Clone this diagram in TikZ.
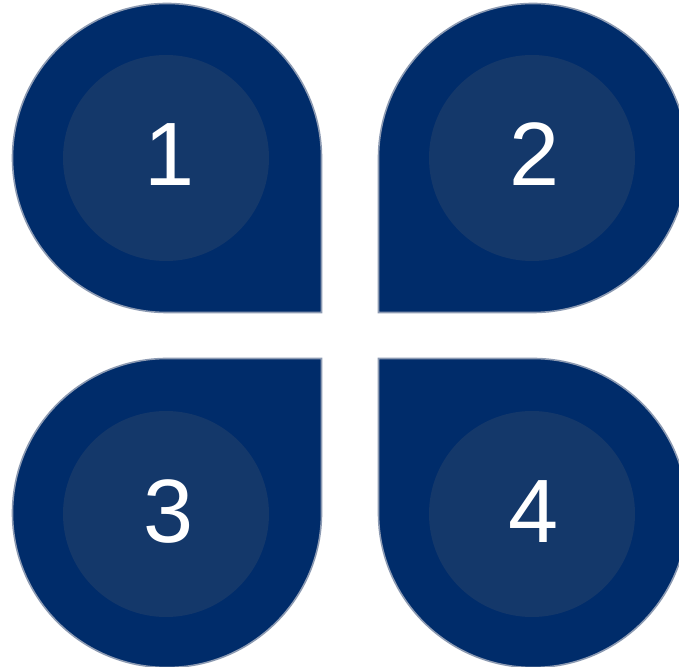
\documentclass[tikz,border=0pt]{standalone}
\usepackage{fontspec}
\setmainfont{Liberation Sans}
\definecolor{outerblue}{HTML}{002C6A}
\definecolor{innerblue}{HTML}{14386A}
\definecolor{edgegray}{HTML}{8C9AB2}
\begin{document}
\begin{tikzpicture}[x=1pt,y=1pt,
  petal/.style={fill=outerblue,draw=edgegray,line width=1.6pt,line join=miter},
  core/.style={circle,fill=innerblue,minimum size=206pt,inner sep=0pt,draw=none},
  digit/.style={anchor=base,text=white,font=\fontsize{90}{90}\selectfont,inner sep=0pt}]
\useasboundingbox (0,0) rectangle (679,666);
\clip (0,0) rectangle (679,666);
% petals
\path[petal] (321.5,508) -- (321.5,353.5) -- (167,353.5) arc[start angle=270,end angle=0,radius=154.5] -- cycle;
\path[petal] (378.5,508) -- (378.5,353.5) -- (533,353.5) arc[start angle=-90,end angle=180,radius=154.5] -- cycle;
\path[petal] (321.5,153) -- (321.5,307.5) -- (167,307.5) arc[start angle=90,end angle=360,radius=154.5] -- cycle;
\path[petal] (378.5,153) -- (378.5,307.5) -- (533,307.5) arc[start angle=90,end angle=-180,radius=154.5] -- cycle;
% inner circles
\node[core] (c1) at (166,508) {};
\node[core] (c2) at (532,508) {};
\node[core] (c3) at (166,152) {};
\node[core] (c4) at (532,152) {};
% labels
\node[digit] (t1) at (170,480) {1};
\node[digit] (t2) at (535,480) {2};
\node[digit] (t3) at (169,123) {3};
\node[digit] (t4) at (534,123) {4};
\end{tikzpicture}
\end{document}
